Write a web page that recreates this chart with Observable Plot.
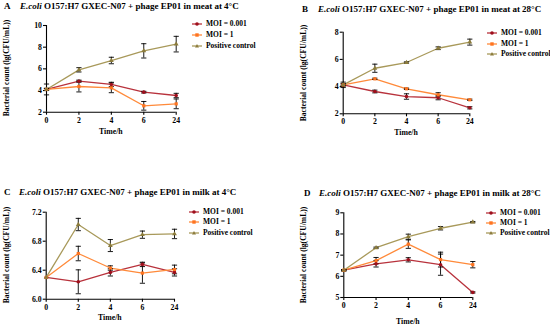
<!DOCTYPE html>
<html><head><meta charset="utf-8">
<script src="https://cdn.jsdelivr.net/npm/d3@7"></script>
<script src="https://cdn.jsdelivr.net/npm/@observablehq/plot@0.6"></script>
<style>
html,body{margin:0;padding:0;background:#fff;}
#root{position:relative;width:550px;height:327px;overflow:hidden;font-family:"Liberation Serif",serif;font-weight:bold;color:#000;}
.abs{position:absolute;white-space:nowrap;}
.ttl{font-size:9px;line-height:10px;}
.leg{font-size:7.5px;line-height:10px;}
.ylab{font-size:7.6px;line-height:8px;transform:translate(-50%,-50%) rotate(-90deg);}
.xlab{font-size:7.8px;line-height:10px;transform:translate(-50%,-50%);}
</style></head>
<body><div id="root"></div>
<script>
const times = ["0", "2", "4", "6", "24"];
const seriesNames = ["MOI = 0.001", "MOI = 1", "Positive control"];

// Panel A: meat at 4 °C
const aMoi001 = [4.10, 4.86, 4.56, 3.85, 3.54];
const aMoi001Err = [0.10, 0.10, 0.20, 0.08, 0.20];
const aMoi1 = [4.10, 4.37, 4.25, 2.59, 2.77];
const aMoi1Err = [0.10, 0.50, 0.45, 0.40, 0.45];
const aPos = [4.10, 5.91, 6.77, 7.66, 8.28];
const aPosErr = [0.50, 0.20, 0.30, 0.66, 0.72];
const aTicks = [2, 4, 6, 8, 10];

// Panel B: meat at 28 °C
const bMoi001 = [4.13, 3.64, 3.27, 3.18, 2.44];
const bMoi001Err = [0.20, 0.10, 0.20, 0.15, 0.08];
const bMoi1 = [4.13, 4.57, 3.84, 3.40, 3.03];
const bMoi1Err = [0.05, 0.05, 0.05, 0.15, 0.05];
const bPos = [4.13, 5.35, 5.77, 6.82, 7.27];
const bPosErr = [0.10, 0.30, 0.05, 0.10, 0.22];
const bTicks = [2, 4, 6, 8];

// Panel C: milk at 4 °C
const cMoi001 = [6.30, 6.24, 6.37, 6.48, 6.37];
const cMoi001Err = [0, 0.165, 0.05, 0.03, 0.05];
const cMoi1 = [6.30, 6.63, 6.43, 6.36, 6.41];
const cMoi1Err = [0, 0.10, 0.03, 0.14, 0.06];
const cPos = [6.30, 7.03, 6.74, 6.89, 6.90];
const cPosErr = [0, 0.085, 0.083, 0.05, 0.065];
const cTicks = [6.0, 6.4, 6.8, 7.2];

// Panel D: milk at 28 °C
const dMoi001 = [6.29, 6.59, 6.78, 6.55, 5.24];
const dMoi001Err = [0.03, 0.15, 0.10, 0.50, 0.03];
const dMoi1 = [6.29, 6.74, 7.52, 6.79, 6.55];
const dMoi1Err = [0.03, 0.15, 0.20, 0.35, 0.15];
const dPos = [6.29, 7.35, 7.87, 8.27, 8.56];
const dPosErr = [0.03, 0.03, 0.12, 0.08, 0.03];
const dTicks = [5, 6, 7, 8, 9];

const lineColors = ["#b8323c", "#ff8a3a", "#a8995a"];
const markColors = ["#9e0f1c", "#ff7420", "#8c7c3c"];
const symbols = ["circle", "square", "triangle"];

const capSymbol = {draw(ctx) { ctx.moveTo(-2.6, 0); ctx.lineTo(2.6, 0); }};

const root = document.getElementById("root");

function addDiv(cls, x, y, html) {
  const d = document.createElement("div");
  d.className = "abs " + cls;
  d.style.left = x + "px";
  d.style.top = y + "px";
  d.innerHTML = html;
  root.appendChild(d);
  return d;
}

function panel(cfg) {
  const rows = [];
  cfg.series.forEach((s, k) => {
    s.vals.forEach((v, i) => rows.push({s: k, i, y: v, e: s.errs[i]}));
  });
  const errRows = rows.filter(d => d.e > 0);
  const W = cfg.box.width, H = cfg.box.height;
  const chart = Plot.plot({
    width: W, height: H,
    marginLeft: cfg.x0 - cfg.box.left,
    marginRight: cfg.box.left + W - cfg.x1,
    marginTop: cfg.yTop - cfg.box.top,
    marginBottom: cfg.box.top + H - cfg.yBot,
    style: {fontFamily: "Liberation Serif", fontSize: "7.8px", fontWeight: "bold", background: "transparent", overflow: "visible", color: "#000"},
    x: {domain: [0, times.length - 1]},
    y: {domain: cfg.domain},
    marks: [
      Plot.ruleX([0], {stroke: "#000", strokeWidth: 1.1}),
      Plot.ruleY([cfg.domain[0]], {stroke: "#000", strokeWidth: 1.1}),
      Plot.axisX({ticks: times.map((t, i) => i), tickFormat: i => times[i], tickSize: 3, tickPadding: 2, label: null, strokeWidth: 1.1}),
      Plot.axisY({ticks: cfg.ticks, tickFormat: cfg.fmt, tickSize: 3, tickPadding: 1.5, label: null, strokeWidth: 1.1}),
      ...[0, 1, 2].map(k => Plot.line(rows.filter(d => d.s === k), {x: "i", y: "y", stroke: lineColors[k], strokeWidth: 1.3})),
      Plot.ruleX(errRows, {x: "i", y1: d => d.y - d.e, y2: d => d.y + d.e, stroke: "#000", strokeWidth: 0.9}),
      Plot.dot(errRows, {x: "i", y: d => d.y + d.e, symbol: capSymbol, stroke: "#000", strokeWidth: 0.9, r: 3}),
      Plot.dot(errRows, {x: "i", y: d => d.y - d.e, symbol: capSymbol, stroke: "#000", strokeWidth: 0.9, r: 3}),
      ...[0, 1, 2].map(k => Plot.dot(rows.filter(d => d.s === k), {x: "i", y: "y", symbol: symbols[k], fill: markColors[k], r: 1.8}))
    ]
  });
  chart.style.position = "absolute";
  chart.style.left = cfg.box.left + "px";
  chart.style.top = cfg.box.top + "px";
  root.appendChild(chart);

  // title
  addDiv("ttl", cfg.letterX, cfg.titleY - 5, cfg.letter);
  addDiv("ttl", cfg.titleX, cfg.titleY - 5, "<i>E.coli</i> O157:H7 GXEC-N07 + phage EP01 in " + cfg.medium);
  // axis labels
  addDiv("ylab", cfg.ylabX, (cfg.yTop + cfg.yBot) / 2, "Bacterial count (lg(CFU/mL))");
  addDiv("xlab", (cfg.x0 + cfg.x1) / 2, cfg.xlabY, "Time/h");
  // legend
  seriesNames.forEach((name, k) => {
    const y = cfg.legY[k];
    const sym = k === 0 ? '<circle cx="5" cy="4" r="1.8" fill="' + markColors[k] + '"/>'
      : k === 1 ? '<rect x="3.3" y="2.3" width="3.4" height="3.4" fill="' + markColors[k] + '"/>'
      : '<path d="M5,2 L7,5.6 L3,5.6 Z" fill="' + markColors[k] + '"/>';
    const svg = '<svg width="10" height="8" style="position:absolute;left:0;top:1px;overflow:visible"><line x1="0" y1="4" x2="10" y2="4" stroke="' + lineColors[k] + '" stroke-width="1.3"/>' + sym + '</svg>';
    addDiv("leg", cfg.legX, y - 5, svg);
    addDiv("leg", cfg.legX + 14, y - 5, name);
  });
}

panel({
  letter: "A", letterX: 4, titleX: 20, titleY: 6, medium: "meat at 4°C",
  x0: 46, x1: 175.7, yTop: 25, yBot: 111.7, domain: [2, 10], ticks: aTicks, fmt: d => d,
  box: {left: 0, top: 15, width: 185, height: 115},
  series: [{vals: aMoi001, errs: aMoi001Err}, {vals: aMoi1, errs: aMoi1Err}, {vals: aPos, errs: aPosErr}],
  ylabX: 7, xlabY: 132, legX: 192, legY: [24.3, 35.3, 46.3]
});
panel({
  letter: "B", letterX: 302, titleX: 318, titleY: 9, medium: "meat at 28°C",
  x0: 342.7, x1: 469.3, yTop: 31.7, yBot: 113.3, domain: [2, 8], ticks: bTicks, fmt: d => d,
  box: {left: 295, top: 20, width: 185, height: 108},
  series: [{vals: bMoi001, errs: bMoi001Err}, {vals: bMoi1, errs: bMoi1Err}, {vals: bPos, errs: bPosErr}],
  ylabX: 304, xlabY: 132.7, legX: 487, legY: [33, 44, 54]
});
panel({
  letter: "C", letterX: 4, titleX: 19, titleY: 191.7, medium: "milk at 4°C",
  x0: 45.7, x1: 174, yTop: 211.7, yBot: 298.7, domain: [6.0, 7.2], ticks: cTicks, fmt: d => d.toFixed(1),
  box: {left: 0, top: 200, width: 185, height: 112},
  series: [{vals: cMoi001, errs: cMoi001Err}, {vals: cMoi1, errs: cMoi1Err}, {vals: cPos, errs: cPosErr}],
  ylabX: 7, xlabY: 318, legX: 189, legY: [211.7, 222.3, 233]
});
panel({
  letter: "D", letterX: 304, titleX: 319, titleY: 193.3, medium: "milk at 28°C",
  x0: 343.3, x1: 472.3, yTop: 212.3, yBot: 297, domain: [5, 9], ticks: dTicks, fmt: d => d,
  box: {left: 295, top: 200, width: 185, height: 112},
  series: [{vals: dMoi001, errs: dMoi001Err}, {vals: dMoi1, errs: dMoi1Err}, {vals: dPos, errs: dPosErr}],
  ylabX: 304, xlabY: 322, legX: 486, legY: [212.7, 223.3, 233.3]
});
</script></body></html>
